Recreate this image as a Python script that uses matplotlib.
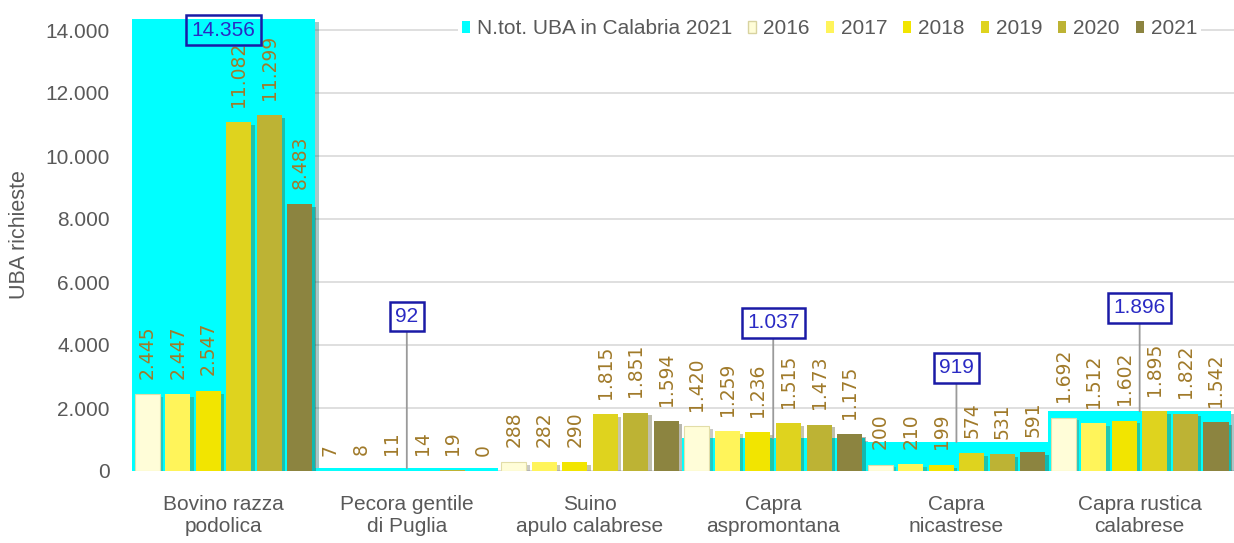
import numpy as np
import matplotlib
matplotlib.use("Agg")
import matplotlib.pyplot as plt
from matplotlib.patches import Patch
import matplotlib.patheffects as pe

# ---------------- data ----------------
categories = ['Bovino razza\npodolica', 'Pecora gentile\ndi Puglia', 'Suino\napulo calabrese',
              'Capra\naspromontana', 'Capra\nnicastrese', 'Capra rustica\ncalabrese']
totals_2021 = [14356, 92, np.nan, 1037, 919, 1896]
years = ['2016', '2017', '2018', '2019', '2020', '2021']
v2016 = [2445, 7, 288, 1420, 200, 1692]
v2017 = [2447, 8, 282, 1259, 210, 1512]
v2018 = [2547, 11, 290, 1236, 199, 1602]
v2019 = [11082, 14, 1815, 1515, 574, 1895]
v2020 = [11299, 19, 1851, 1473, 531, 1822]
v2021 = [8483, 0, 1594, 1175, 591, 1542]
series = [v2016, v2017, v2018, v2019, v2020, v2021]
# label-box centres (y, data units) for the totals
box_y = [14000, 4900, np.nan, 4700, 3270, 5175]
y_ticks = [0, 2000, 4000, 6000, 8000, 10000, 12000, 14000]

# ---------------- style ----------------
cyan = '#00FFFF'
year_colors = ['#FFFDD8', '#FFF45A', '#F2E500', '#DFD31E', '#BDB334', '#8C8440']
label_color = '#A07A2A'
text_grey = '#595959'
SANS = ['Liberation Sans', 'DejaVu Sans']

def fmt(v):
    return f"{int(v):,}".replace(',', '.')

W, H = 1234, 543
fig = plt.figure(figsize=(W / 100, H / 100), dpi=100)
ax_left, ax_right = 132, 1234
ax_bottom_px, ax_top_px = 471, 14.25
ax = fig.add_axes([ax_left / W, 1 - ax_bottom_px / H,
                   (ax_right - ax_left) / W, (ax_bottom_px - ax_top_px) / H])

x = np.arange(len(categories))
shadow = [pe.SimplePatchShadow(offset=(2.5, -2), alpha=0.35, rho=0.4), pe.Normal()]

# background totals (cyan, full category width)
tot_bars = ax.bar(x, np.nan_to_num(totals_2021), width=1.0, color=cyan, zorder=1, linewidth=0)
for b in tot_bars:
    b.set_path_effects(shadow)

# clustered year bars
slot = 1 / 6
bw = slot * 0.82
for i, (vals, col) in enumerate(zip(series, year_colors)):
    xs = x + (i - 2.5) * slot
    ec = '#E2DDA8' if i == 0 else 'none'
    bars = ax.bar(xs, vals, width=bw, color=col, edgecolor=ec, linewidth=0.8, zorder=2)
    for b in bars:
        b.set_path_effects(shadow)
    for xi, v in zip(xs, vals):
        ax.annotate(fmt(v), (xi, v), xytext=(0, 11), textcoords='offset points',
                    rotation=90, ha='center', va='bottom', color=label_color,
                    fontsize=13.5, family=['DejaVu Sans'], zorder=3)

# total labels with boxes and leader lines
for xi, (t, by) in enumerate(zip(totals_2021, box_y)):
    if np.isnan(t):
        continue
    fc = 'none' if t > 10000 else 'white'
    bbox = dict(boxstyle='square,pad=0.25', fc=fc, ec='#1A1AA6', lw=1.8)
    if t > 10000:
        ax.text(xi, by, fmt(t), ha='center', va='center', color='#2A2AC4',
                fontsize=15, family=SANS, bbox=bbox, zorder=5)
    else:
        ax.annotate(fmt(t), (xi, t), xytext=(xi, by), textcoords='data',
                    ha='center', va='center', color='#2A2AC4', fontsize=15,
                    family=SANS, bbox=bbox, zorder=5,
                    arrowprops=dict(arrowstyle='-', color='#9A9A9A', lw=1.3,
                                    shrinkA=0, shrinkB=0))

# axes
ax.set_xlim(-0.5, 5.515)
ax.set_ylim(0, 14500)
ax.set_yticks(y_ticks)
ax.set_yticklabels([fmt(v) for v in y_ticks], family=SANS, fontsize=15, color=text_grey)
ax.set_xticks(x)
ax.set_xticklabels(categories, family=SANS, fontsize=15, color=text_grey)
ax.tick_params(axis='both', length=0)
ax.tick_params(axis='y', pad=16)
ax.tick_params(axis='x', pad=17)
ax.yaxis.grid(True, color='#D9D9D9', lw=1.2, zorder=0)
ax.set_axisbelow(True)
for s in ax.spines.values():
    s.set_visible(False)

fig.text(20 / W, 1 - 235 / H, 'UBA richieste', rotation=90, ha='center', va='center',
         fontsize=15.5, family=SANS, color=text_grey)

# legend
handles = [Patch(facecolor=cyan, edgecolor='none', label='N.tot. UBA in Calabria 2021')]
for yr, col in zip(years, year_colors):
    handles.append(Patch(facecolor=col, edgecolor='#D8D3A0' if yr == '2016' else 'none', label=yr))
leg = ax.legend(handles=handles, loc='center', bbox_to_anchor=(0.633, 0.968), ncol=7,
                frameon=True, facecolor='white', edgecolor='none', framealpha=1,
                handlelength=0.38, handleheight=0.56, handletextpad=0.33,
                columnspacing=0.78, borderpad=0.2,
                prop={'family': SANS, 'size': 15})
for t in leg.get_texts():
    t.set_color(text_grey)
leg.set_zorder(10)

fig.savefig('out.png', dpi=100)
